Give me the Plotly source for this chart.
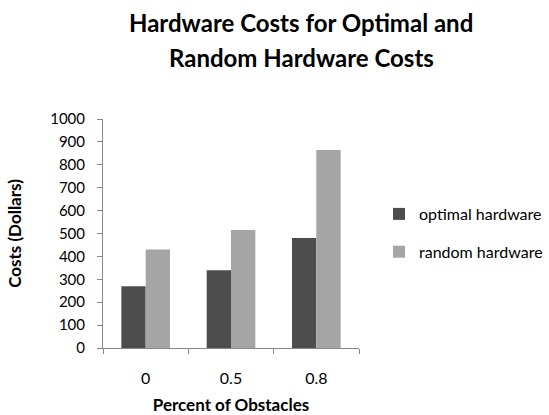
import plotly.graph_objects as go

# Cost data by obstacle percentage
categories = ["0", "0.5", "0.8"]
optimal_hardware = [270, 340, 480]
random_hardware = [430, 515, 865]
y_ticks = [0, 100, 200, 300, 400, 500, 600, 700, 800, 900, 1000]

FONT = "Lato"
AXIS_GREY = "#868686"

fig = go.Figure()
fig.add_trace(go.Bar(x=categories, y=optimal_hardware, name="optimal hardware",
                     legendgroup="optimal",
                     marker=dict(color="#4d4d4d", line=dict(width=0))))
fig.add_trace(go.Bar(x=categories, y=random_hardware, name="random hardware",
                     legendgroup="random",
                     marker=dict(color="#a5a5a5", line=dict(width=0))))

W, H = 549, 415
left, right, top, bottom = 103, 359, 119, 348


def px_x(v):
    return (v - left) / (right - left)


def px_y(v):
    return (bottom - v) / (bottom - top)


fig.update_layout(
    width=W, height=H,
    margin=dict(l=left, r=W - right, t=top, b=H - bottom, autoexpand=False),
    paper_bgcolor="white", plot_bgcolor="white",
    barmode="group", bargap=0.43, bargroupgap=0,
    font=dict(family=FONT, size=15, color="black"),
    showlegend=True,
    legend=dict(x=px_x(379), y=px_y(233), yanchor="middle", xanchor="left",
                font=dict(family=FONT, size=16, color="black"),
                itemsizing="constant", tracegroupgap=14, itemwidth=30,
                bgcolor="rgba(0,0,0,0)"),
    annotations=[
        dict(text="<b>Hardware Costs for Optimal and</b>", x=px_x(301), y=px_y(22),
             xref="paper", yref="paper", showarrow=False,
             font=dict(family=FONT, size=24, color="black"),
             xanchor="center", yanchor="middle"),
        dict(text="<b>Random Hardware Costs</b>", x=px_x(301), y=px_y(58),
             xref="paper", yref="paper", showarrow=False,
             font=dict(family=FONT, size=24, color="black"),
             xanchor="center", yanchor="middle"),
    ],
)

fig.update_xaxes(
    showline=True, linecolor=AXIS_GREY, linewidth=1,
    ticks="outside", tickson="boundaries", ticklen=5, tickcolor=AXIS_GREY,
    tickfont=dict(family=FONT, size=16), ticklabelstandoff=16,
    title=dict(text="<b>Percent of Obstacles</b>", font=dict(family=FONT, size=17), standoff=12),
    showgrid=False, zeroline=False,
)
fig.update_yaxes(
    range=[0, 1000], tickvals=y_ticks,
    showline=True, linecolor=AXIS_GREY, linewidth=1,
    ticks="outside", ticklen=5, tickcolor=AXIS_GREY,
    tickfont=dict(family=FONT, size=15), ticklabelstandoff=9,
    title=dict(text="<b>Costs (Dollars)</b>", font=dict(family=FONT, size=17), standoff=24),
    showgrid=False, zeroline=False,
)

fig.write_html("out.html")
